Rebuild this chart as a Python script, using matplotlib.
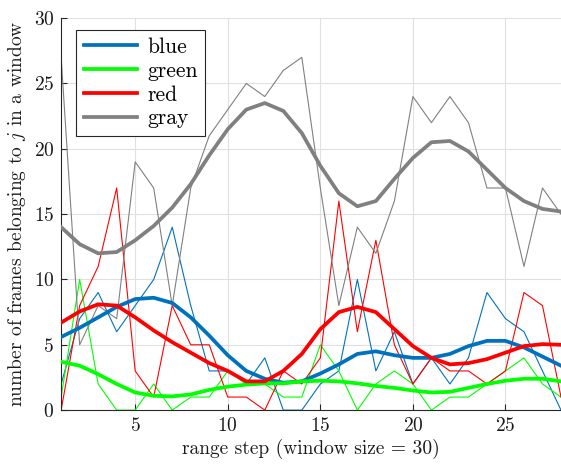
import matplotlib
matplotlib.use("Agg")
import matplotlib.pyplot as plt
import numpy as np

plt.rcParams['font.family'] = ['cmr10', 'DejaVu Serif']
plt.rcParams['mathtext.fontset'] = 'cm'
plt.rcParams['axes.formatter.use_mathtext'] = True
plt.rcParams['font.size'] = 14

steps = list(range(1, 29))

blue_raw = [2, 7, 9, 6, 8, 10, 14, 8, 3, 3, 2, 4, 0, 0, 2, 3, 10, 3, 6, 2, 4, 2, 4, 9, 7, 6, 3, 0]
green_raw = [1, 10, 2, 0, 0, 2, 0, 1, 1, 3, 2, 2, 1, 1, 5, 3, 0, 2, 3, 2, 0, 1, 1, 2, 3, 4, 2, 1]
red_raw = [0, 8, 11, 17, 3, 1, 8, 5, 5, 1, 1, 0, 3, 2, 4, 16, 6, 13, 5, 2, 4, 3, 3, 2, 3, 9, 8, 1]
gray_raw = [27, 5, 8, 7, 19, 17, 8, 17, 21, 23, 25, 24, 26, 27, 17, 8, 14, 12, 16, 24, 22, 24, 22, 17, 17, 11, 17, 15]

blue_smooth = [5.6, 6.3, 7.1, 7.9, 8.5, 8.6, 8.2, 7.1, 5.7, 4.2, 3.0, 2.4, 2.1, 2.2,
               2.8, 3.5, 4.3, 4.5, 4.2, 4.0, 4.0, 4.3, 4.9, 5.3, 5.3, 4.8, 4.1, 3.4]
green_smooth = [3.7, 3.4, 2.75, 2.0, 1.35, 1.1, 1.05, 1.2, 1.55, 1.8, 1.95, 2.05, 2.05, 2.2,
                2.25, 2.2, 2.05, 1.85, 1.7, 1.5, 1.35, 1.4, 1.7, 2.0, 2.25, 2.4, 2.4, 2.2]
red_smooth = [6.7, 7.55, 8.1, 8.0, 7.1, 6.1, 5.2, 4.4, 3.6, 3.0, 2.2, 2.2, 3.0, 4.3,
              6.2, 7.5, 7.9, 7.5, 6.2, 4.9, 4.0, 3.5, 3.6, 3.9, 4.4, 4.9, 5.05, 5.0]
gray_smooth = [14.0, 12.7, 12.0, 12.1, 13.0, 14.1, 15.5, 17.3, 19.5, 21.5, 23.0, 23.5, 22.9, 21.2,
               18.7, 16.6, 15.6, 16.0, 17.7, 19.3, 20.5, 20.6, 19.8, 18.4, 17.0, 16.0, 15.4, 15.2]

names = ['blue', 'green', 'red', 'gray']
colors = ['#0072BD', '#00FF00', '#FF0000', '#808080']
raws = [blue_raw, green_raw, red_raw, gray_raw]
smooths = [blue_smooth, green_smooth, red_smooth, gray_smooth]

fig = plt.figure(figsize=(5.61, 4.65), dpi=100)
ax = fig.add_axes([0.109, 0.118, 0.891, 0.843])

for raw, c in zip(raws, colors):
    ax.plot(steps, raw, color=c, lw=0.8, zorder=2)
for sm, c, n in zip(smooths, colors, names):
    ax.plot(steps, sm, color=c, lw=2.7, label=n, zorder=3)

ax.set_xlim(1, 28)
ax.set_ylim(0, 30)
ax.set_xticks([5, 10, 15, 20, 25])
ax.set_yticks([0, 5, 10, 15, 20, 25, 30])
ax.grid(True, color='#e0e0e0', lw=0.8, zorder=0)
ax.set_axisbelow(True)
ax.tick_params(direction='in', length=4, width=0.8, colors='#262626', labelcolor='#1a1a1a', pad=5)
ax.spines['top'].set_visible(False)
ax.spines['right'].set_visible(False)
for s in ['left', 'bottom']:
    ax.spines[s].set_color('#262626')
    ax.spines[s].set_linewidth(0.8)

ax.set_xlabel('range step (window size = 30)', color='#1a1a1a', labelpad=3)
ax.set_ylabel('number of frames belonging to $j$ in a window', color='#1a1a1a', labelpad=4)

leg = ax.legend(loc='upper left', bbox_to_anchor=(0.03, 0.97), fancybox=False,
                edgecolor='#262626', framealpha=1, handlelength=2.5, handletextpad=0.45,
                borderpad=0.35, labelspacing=0.2, fontsize=15.5, borderaxespad=0)
leg.get_frame().set_linewidth(0.8)

fig.savefig('out.png', dpi=100)
